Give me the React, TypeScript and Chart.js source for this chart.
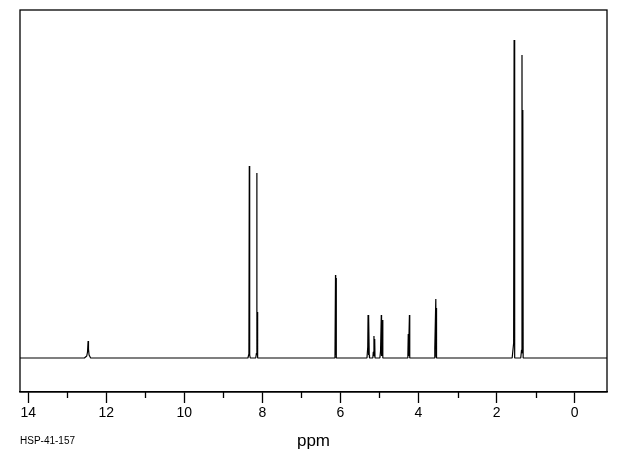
import React, { useEffect, useRef } from "react";
import { Chart, registerables } from "chart.js";

Chart.register(...registerables);

// Spectrum points (chemical shift in ppm) and their intensities
const shifts: number[] = [
  14.21,
  12.56, 12.5, 12.48, 12.465, 12.455, 12.44, 12.4,
  8.37, 8.345, 8.335, 8.325, 8.31,
  8.17, 8.152, 8.143, 8.138, 8.128, 8.121,
  6.14, 6.126, 6.121, 6.113, 6.106,
  5.32, 5.3, 5.292, 5.281, 5.274, 5.262, 5.255,
  5.17, 5.158, 5.141, 5.135, 5.122, 5.114,
  4.99, 4.972, 4.953, 4.946, 4.922, 4.914,
  4.29, 4.272, 4.262, 4.255, 4.232, 4.224,
  3.6, 3.582, 3.556, 3.55, 3.541, 3.534,
  1.6, 1.562, 1.55, 1.541, 1.53,
  1.38, 1.36, 1.348, 1.34, 1.327, 1.318,
  -0.83,
];
const intensities: number[] = [
  0,
  0, 2, 6, 17, 9, 3, 0,
  0, 4, 192, 3, 0,
  0, 5, 185, 3, 46, 0,
  0, 83, 3, 80, 0,
  0, 11, 43, 3, 41, 3, 0,
  0, 6, 22, 2, 19, 0,
  0, 7, 43, 2, 38, 0,
  0, 3, 24, 2, 43, 0,
  0, 10, 59, 2, 50, 0,
  0, 15, 318, 3, 0,
  0, 8, 303, 5, 248, 0,
  0,
];

const majorTicks: number[] = [14, 12, 10, 8, 6, 4, 2, 0];
const minorTicks: number[] = [13, 11, 9, 7, 5, 3, 1];
const axisTitle = "ppm";
const sampleLabel = "HSP-41-157";

export default function App() {
  const canvasRef = useRef<HTMLCanvasElement>(null);

  useEffect(() => {
    document.body.style.margin = "0";
    const canvas = canvasRef.current;
    if (!canvas) return;

    const framePlugin = {
      id: "frameAndMinor",
      afterDraw(chart: any) {
        const { ctx, chartArea } = chart;
        const xs = chart.scales.x;
        ctx.save();
        ctx.strokeStyle = "#000";
        ctx.lineWidth = 1.3;
        ctx.strokeRect(
          chartArea.left,
          chartArea.top,
          chartArea.right - chartArea.left,
          chartArea.bottom - chartArea.top
        );
        ctx.beginPath();
        minorTicks.forEach((v) => {
          const px = Math.round(xs.getPixelForValue(v)) + 0.5;
          ctx.moveTo(px, chartArea.bottom);
          ctx.lineTo(px, chartArea.bottom + 6);
        });
        ctx.stroke();
        ctx.restore();
      },
    };

    const chart = new Chart(canvas, {
      type: "scatter",
      data: {
        datasets: [
          {
            data: shifts.map((s, i) => ({ x: s, y: intensities[i] })),
            showLine: true,
            borderColor: "#000",
            borderWidth: 1.2,
            borderJoinStyle: "bevel",
            pointRadius: 0,
            tension: 0,
            fill: false,
          },
        ],
      },
      options: {
        animation: false,
        responsive: false,
        maintainAspectRatio: false,
        layout: { padding: { left: 20, right: 13, top: 10, bottom: 0 } },
        plugins: { legend: { display: false }, tooltip: { enabled: false } },
        scales: {
          x: {
            type: "linear",
            reverse: true,
            min: -0.83,
            max: 14.21,
            afterBuildTicks: (scale: any) => {
              scale.ticks = majorTicks.map((v) => ({ value: v }));
            },
            afterFit: (scale: any) => {
              scale.height = 63;
            },
            ticks: {
              color: "#000",
              padding: 2,
              maxRotation: 0,
              autoSkip: false,
              font: { family: "'Liberation Sans', Arial, sans-serif", size: 14 },
              callback: (v: any) => String(v),
            },
            grid: {
              drawOnChartArea: false,
              drawTicks: true,
              tickLength: 11,
              tickColor: "#000",
              tickWidth: 1.3,
            },
            border: { display: true, color: "#000", width: 1.3 },
            title: {
              display: true,
              text: axisTitle,
              color: "#000",
              font: { family: "'Liberation Sans', Arial, sans-serif", size: 17 },
              padding: { top: 0, bottom: 3 },
            },
          },
          y: {
            display: false,
            min: -34,
            max: 348,
          },
        },
      },
      plugins: [framePlugin],
    });

    return () => chart.destroy();
  }, []);

  return (
    <div style={{ position: "relative", width: 620, height: 455, background: "#fff" }}>
      <canvas ref={canvasRef} width={620} height={455} style={{ display: "block" }} />
      <div
        style={{
          position: "absolute",
          left: 20,
          top: 435,
          fontFamily: "'Liberation Sans', Arial, sans-serif",
          fontSize: 10,
          color: "#000",
          lineHeight: "12px",
        }}
      >
        {sampleLabel}
      </div>
    </div>
  );
}
